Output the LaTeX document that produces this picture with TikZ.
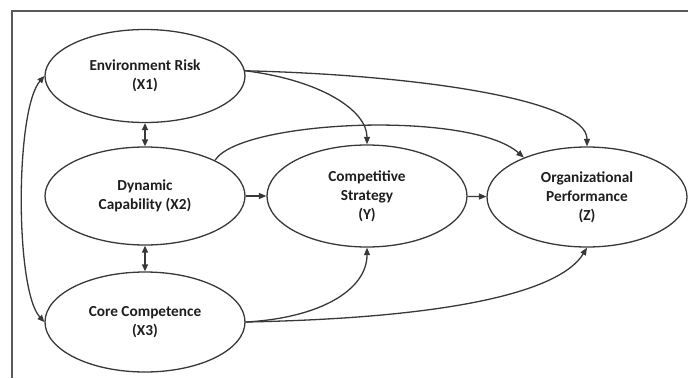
\documentclass[tikz,border=0pt]{standalone}
\usepackage{fontspec}
\setmainfont{Carlito}
\usetikzlibrary{shapes.geometric,arrows.meta}
\definecolor{linec}{HTML}{383838}
\definecolor{framec}{HTML}{5A5A5A}
\definecolor{textc}{HTML}{1E1E1E}
\tikzset{
  var/.style={ellipse, draw=linec, line width=1.3pt, minimum width=200pt, minimum height=98pt,
    inner sep=0pt, align=center, text=textc, font=\fontsize{15.3}{19}\selectfont\bfseries},
  conn/.style={draw=linec, line width=1.3pt, -{Triangle[length=7.5pt,width=6pt]}},
  biconn/.style={draw=linec, line width=1.3pt, {Triangle[length=7pt,width=6pt]}-{Triangle[length=7pt,width=6pt]}},
  framel/.style={draw=framec, line width=1.1pt}
}
\begin{document}
\begin{tikzpicture}[x=1pt,y=-1pt]
\useasboundingbox (0,0) rectangle (688,378);
\coordinate (fa) at (688,11);
\coordinate (fb) at (12,11);
\coordinate (fc) at (12,378);
\draw[framel] (fa) -- (fb) -- (fc);

\node[var, minimum height=93pt] (x1) at (145,76) {Environment Risk\\(X1)};
\node[var] (x2) at (145,196) {Dynamic\\Capability (X2)};
\node[var, minimum height=100pt] (x3) at (145,322) {Core Competence\\(X3)};
\node[var, minimum height=102pt] (y) at (367,196) {Competitive\\Strategy\\(Y)};
\node[var, minimum height=100pt] (z) at (587,197) {Organizational\\Performance\\(Z)};

\draw[biconn] (x1) -- (x2);
\draw[biconn] (x2) -- (x3);
\draw[biconn] (x1.west) .. controls (15,110) and (15,290) .. (x3.west);
\draw[conn] (x2) -- (y);
\draw[conn] (y) -- (z);
\draw[conn] (x1.3) .. controls (320,80) and (367,110) .. (y.north);
\draw[conn] (x1.3) .. controls (420,75) and (587,100) .. (z.north);
\draw[conn] (x2.27) .. controls (240,120) and (470,110) .. (z.148);
\draw[conn] (x3.east) .. controls (320,318) and (367,290) .. (y.south);
\draw[conn] (x3.east) .. controls (450,318) and (560,292) .. (z.south);
\end{tikzpicture}
\end{document}
